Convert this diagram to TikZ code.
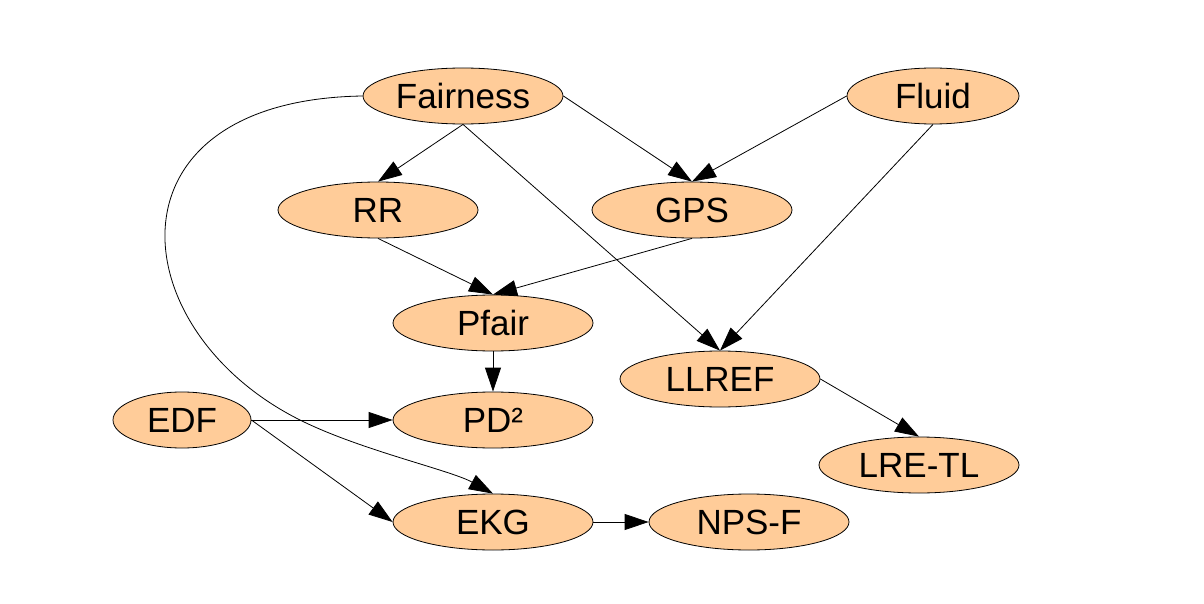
\documentclass[tikz,border=0pt]{standalone}
\usepackage{fontspec}
\setmainfont{Liberation Sans}
\usetikzlibrary{shapes.geometric,arrows.meta}
\definecolor{peach}{HTML}{FFCC99}

\begin{document}
\begin{tikzpicture}[x=1pt, y=-1pt, ->, >={Triangle[length=24pt,width=16pt]}, line width=0.8pt,
    alg/.style={ellipse, draw, fill=peach, minimum width=200pt, minimum height=56pt,
                inner sep=0pt, font=\fontsize{35}{40}\selectfont}]

                \useasboundingbox (0,0) rectangle (1204,604);

                % Nodes
                \node (fair) [alg] at (463,96) {Fairness};
                \node (fluid) [alg, minimum width=172pt] at (933,96) {Fluid};
                \node (rr) [alg] at (378,210) {RR};
                \node (gps) [alg] at (692,210) {GPS};
                \node (pfair) [alg] at (493,323) {Pfair};
                \node (llref) [alg] at (720,379) {LLREF};
                \node (edf) [alg, minimum width=138pt] at (182,420) {EDF};
                \node (pd) [alg] at (493,420) {PD²};
                \node (lretl) [alg] at (919,465) {LRE-TL};
                \node (ekg) [alg] at (493,522) {EKG};
                \node (npsf) [alg] at (749,522) {NPS-F};

                % Edges from the top row
                \draw (fair.south) -- (rr.north);
                \draw (fair.east) -- (gps.north);
                \draw (fair.south) -- (llref.north);
                \draw (fluid.west) -- (gps.north);
                \draw (fluid.south) -- (llref.north);

                % Middle
                \draw (rr.south) -- (pfair.north);
                \draw (gps.south) -- (pfair.north);
                \draw (pfair.south) -- (pd.north);
                \draw (llref.east) -- (lretl.north);

                % Bottom
                \draw (edf.east) -- (pd.west);
                \draw (edf.east) -- (ekg.west);
                \draw (ekg.east) -- (npsf.west);

                % Long curve
                \draw (fair.west) .. controls (100,100) and (120,330) .. (300,420)
                      .. controls (360,450) and (450,470) .. (ekg.north);

            \end{tikzpicture}
\end{document}
